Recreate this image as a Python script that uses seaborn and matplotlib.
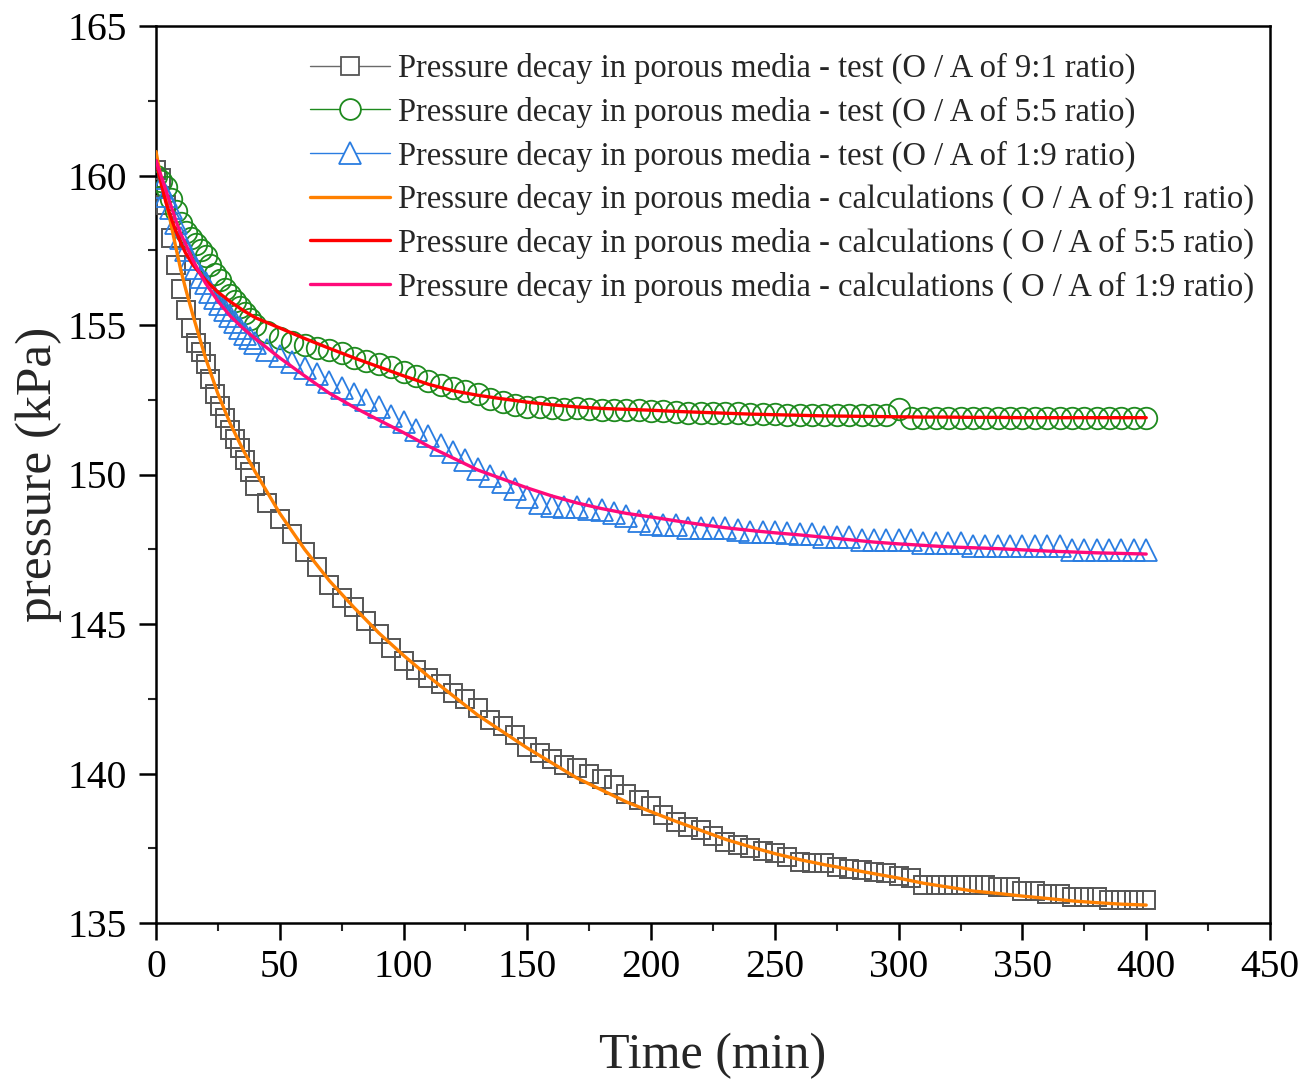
import matplotlib
matplotlib.use("Agg")
import matplotlib.pyplot as plt
from matplotlib.lines import Line2D
from matplotlib.ticker import MultipleLocator
import seaborn as sns

# ---------------- data ----------------
time_test = [0, 2, 4, 6, 8, 10, 12, 14, 16, 18, 20, 22, 24, 26, 28, 30, 32, 34, 36, 38, 40,
             45, 50, 55, 60, 65, 70, 75, 80, 85, 90, 95, 100, 105, 110, 115, 120, 125, 130,
             135, 140, 145, 150, 155, 160, 165, 170, 175, 180, 185, 190, 195, 200, 205, 210,
             215, 220, 225, 230, 235, 240, 245, 250, 255, 260, 265, 270, 275, 280, 285, 290,
             295, 300, 305, 310, 315, 320, 325, 330, 335, 340, 345, 350, 355, 360, 365, 370,
             375, 380, 385, 390, 395, 400]

test_91 = [160.2, 159.9, 159.0, 157.9, 157.0, 156.2, 155.5, 154.9, 154.4, 154.1, 153.7,
           153.2, 152.7, 152.3, 151.9, 151.5, 151.2, 150.9, 150.5, 150.1, 149.6,
           149.05, 148.5, 148.0, 147.4, 146.9, 146.3, 145.87, 145.57, 145.1, 144.67,
           144.2, 143.76, 143.45, 143.2, 142.98, 142.7, 142.5, 142.2, 141.8, 141.6,
           141.3, 140.9, 140.7, 140.5, 140.3, 140.2, 140.0, 139.8, 139.6, 139.3,
           139.1, 138.9, 138.6, 138.38, 138.22, 138.1, 137.9, 137.7, 137.62, 137.52,
           137.42, 137.34, 137.21, 137.05, 137.0, 137.0, 136.88, 136.8, 136.77, 136.7,
           136.67, 136.57, 136.5, 136.28, 136.28, 136.28, 136.28, 136.28, 136.28, 136.2,
           136.2, 136.07, 136.07, 135.97, 135.97, 135.87, 135.87, 135.87, 135.77, 135.77,
           135.77, 135.77]

test_55 = [160.0, 159.8, 159.6, 159.2, 158.8, 158.4, 158.1, 157.9, 157.7, 157.5, 157.3,
           157.0, 156.7, 156.5, 156.2, 156.0, 155.8, 155.6, 155.4, 155.2, 155.0,
           154.75, 154.55, 154.42, 154.32, 154.22, 154.15, 154.06, 153.9, 153.78, 153.68,
           153.58, 153.42, 153.28, 153.12, 153.0, 152.9, 152.78, 152.68, 152.52, 152.42,
           152.32, 152.27, 152.26, 152.22, 152.2, 152.24, 152.18, 152.17, 152.16, 152.16,
           152.15, 152.12, 152.12, 152.08, 152.05, 152.05, 152.05, 152.05, 152.05, 152.04,
           152.04, 152.02, 152.0, 152.0, 152.0, 152.0, 152.0, 152.0, 152.0, 152.0,
           152.0, 152.2, 151.9, 151.9, 151.9, 151.9, 151.9, 151.9, 151.9, 151.9,
           151.9, 151.9, 151.9, 151.9, 151.9, 151.9, 151.9, 151.9, 151.9, 151.9,
           151.9, 151.9]

test_19 = [159.9, 159.6, 159.3, 158.9, 158.4, 157.9, 157.5, 157.2, 156.9, 156.6, 156.4,
           156.1, 155.9, 155.7, 155.5, 155.3, 155.1, 154.9, 154.7, 154.55, 154.4,
           154.15, 153.95, 153.75, 153.55, 153.35, 153.1, 152.9, 152.7, 152.5, 152.25,
           151.95, 151.75, 151.5, 151.3, 151.0, 150.75, 150.5, 150.2, 149.95, 149.75,
           149.5, 149.25, 149.05, 148.95, 148.9, 148.9, 148.85, 148.8, 148.7, 148.6,
           148.45, 148.35, 148.3, 148.3, 148.2, 148.2, 148.2, 148.2, 148.15, 148.07,
           148.07, 148.07, 148.05, 148.0, 148.0, 147.9, 147.9, 147.9, 147.8, 147.8,
           147.8, 147.8, 147.8, 147.7, 147.7, 147.7, 147.7, 147.6, 147.6, 147.6,
           147.6, 147.6, 147.6, 147.6, 147.6, 147.48, 147.48, 147.48, 147.48, 147.48,
           147.48, 147.48]

time_calc = [0, 2, 4, 6, 8, 10, 12, 15, 20, 25, 30, 35, 40, 50, 60, 70, 80, 90, 100, 110,
             120, 130, 140, 150, 160, 170, 180, 190, 200, 210, 220, 230, 240, 250, 260, 270,
             280, 290, 300, 310, 320, 330, 340, 350, 360, 370, 380, 390, 400]

calc_91 = [160.8, 159.9, 159.2, 158.4, 157.6, 156.85, 156.2, 155.3, 153.9, 152.7, 151.7,
           150.85, 150.1, 148.7, 147.5, 146.45, 145.55, 144.7, 143.95, 143.25, 142.6,
           141.95, 141.4, 140.85, 140.35, 139.85, 139.45, 139.05, 138.72, 138.4, 138.1,
           137.8, 137.55, 137.32, 137.12, 136.95, 136.8, 136.65, 136.5, 136.33, 136.2,
           136.07, 135.99, 135.9, 135.82, 135.74, 135.68, 135.63, 135.6]

calc_55 = [160.5, 159.75, 159.1, 158.6, 158.15, 157.75, 157.4, 157.0, 156.5, 156.1, 155.78,
           155.5, 155.25, 154.9, 154.55, 154.22, 153.9, 153.6, 153.3, 153.02, 152.8,
           152.65, 152.53, 152.42, 152.33, 152.26, 152.21, 152.18, 152.15, 152.11, 152.08,
           152.05, 152.02, 152.0, 151.98, 151.96, 151.95, 151.94, 151.93, 151.92, 151.92,
           151.91, 151.91, 151.9, 151.9, 151.9, 151.9, 151.9, 151.9]

calc_19 = [160.5, 160.0, 159.5, 159.0, 158.5, 158.05, 157.7, 157.15, 156.4, 155.8, 155.3,
           154.9, 154.55, 153.9, 153.3, 152.72, 152.25, 151.82, 151.4, 150.95, 150.55,
           150.15, 149.85, 149.55, 149.28, 149.05, 148.86, 148.7, 148.58, 148.45, 148.33,
           148.22, 148.13, 148.05, 147.98, 147.9, 147.82, 147.74, 147.68, 147.63, 147.58,
           147.55, 147.52, 147.48, 147.44, 147.41, 147.38, 147.36, 147.34]

labels = [
    "Pressure decay in porous media - test (O / A of 9:1 ratio)",
    "Pressure decay in porous media - test (O / A of 5:5 ratio)",
    "Pressure decay in porous media - test (O / A of 1:9 ratio)",
    "Pressure decay in porous media - calculations ( O / A of 9:1 ratio)",
    "Pressure decay in porous media - calculations ( O / A of 5:5 ratio)",
    "Pressure decay in porous media - calculations ( O / A of 1:9 ratio)",
]

# ---------------- styling ----------------
sns.set_style("ticks")
plt.rcParams["font.family"] = ["Liberation Serif", "DejaVu Serif"]

c_sq = "#555555"
c_sq_line = "#6a6a6a"
c_ci = "#1e8a1e"
c_tr = "#2a7de1"
c_or = "#ff8000"
c_rd = "#ff0000"
c_mg = "#ff0a7a"

fig = plt.figure(figsize=(13.16, 10.8), dpi=100)
ax = fig.add_axes([156 / 1316, 1 - 923 / 1080, (1270 - 156) / 1316, (923 - 26) / 1080])

sns.lineplot(x=time_test, y=test_91, ax=ax, marker="s", linestyle="none", markersize=13.5,
             markerfacecolor="none", markeredgecolor=c_sq, markeredgewidth=1.4,
             color=c_sq, zorder=3)
sns.lineplot(x=time_test, y=test_55, ax=ax, marker="o", linestyle="none", markersize=15.5,
             markerfacecolor="none", markeredgecolor=c_ci, markeredgewidth=1.3,
             color=c_ci, zorder=3)
sns.lineplot(x=time_test, y=test_19, ax=ax, marker="^", linestyle="none", markersize=16.5,
             markerfacecolor="none", markeredgecolor=c_tr, markeredgewidth=1.3,
             color=c_tr, zorder=3)
sns.lineplot(x=time_calc, y=calc_91, ax=ax, color=c_or, linewidth=2.4, zorder=4)
sns.lineplot(x=time_calc, y=calc_55, ax=ax, color=c_rd, linewidth=2.4, zorder=4)
sns.lineplot(x=time_calc, y=calc_19, ax=ax, color=c_mg, linewidth=2.4, zorder=4)

ax.set_xlim(0, 450)
ax.set_ylim(135, 165)
ax.xaxis.set_major_locator(MultipleLocator(50))
ax.xaxis.set_minor_locator(MultipleLocator(25))
ax.yaxis.set_major_locator(MultipleLocator(5))
ax.yaxis.set_minor_locator(MultipleLocator(2.5))
ax.tick_params(which="major", direction="out", length=12, width=1.8, labelsize=28.5,
               colors="black", top=False, right=False)
ax.tick_params(which="minor", direction="out", length=6, width=1.5, top=False, right=False)
ax.tick_params(axis="x", which="major", pad=7)
ax.tick_params(axis="y", which="major", pad=9)
for s in ax.spines.values():
    s.set_visible(True)
    s.set_linewidth(1.8)
    s.set_color("black")

ax.set_xlabel("Time (min)", fontsize=36, labelpad=33)
ax.set_ylabel("pressure (kPa)", fontsize=37, labelpad=4)

handles = [
    Line2D([], [], color=c_sq_line, lw=1.0, marker="s", ms=13, mfc="white", mec=c_sq, mew=1.3),
    Line2D([], [], color=c_ci, lw=1.0, marker="o", ms=15, mfc="white", mec=c_ci, mew=1.3),
    Line2D([], [], color=c_tr, lw=1.0, marker="^", ms=16, mfc="white", mec=c_tr, mew=1.3),
    Line2D([], [], color=c_or, lw=2.4),
    Line2D([], [], color=c_rd, lw=2.4),
    Line2D([], [], color=c_mg, lw=2.4),
]
ax.legend(handles, labels, loc="upper left", bbox_to_anchor=(310 / 1316, 1 - 53 / 1080),
          bbox_transform=fig.transFigure, frameon=False, fontsize=23.5, handlelength=2.45,
          handletextpad=0.25, labelspacing=0.38, borderpad=0, borderaxespad=0)

fig.savefig("out.png", dpi=100)
